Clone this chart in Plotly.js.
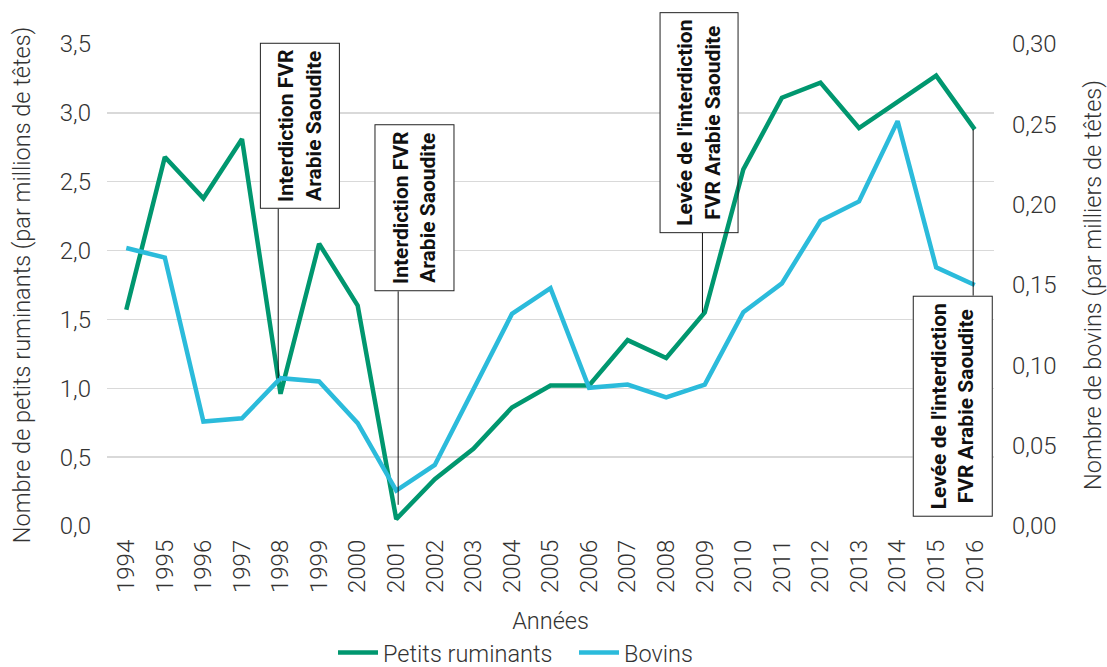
<!DOCTYPE html>
<html>
<head>
<meta charset="utf-8">
<script src="https://cdn.plot.ly/plotly-3.0.1.min.js"></script>
<style>html,body{margin:0;padding:0;background:#fff;}#chart{width:1107px;height:667px;}</style>
</head>
<body>
<div id="chart"></div>
<script>
const years = [1994,1995,1996,1997,1998,1999,2000,2001,2002,2003,2004,2005,2006,2007,2008,2009,2010,2011,2012,2013,2014,2015,2016];
const petitsRuminants = [1.57,2.68,2.38,2.81,0.96,2.05,1.60,0.05,0.34,0.56,0.86,1.02,1.02,1.35,1.22,1.55,2.59,3.11,3.22,2.89,3.08,3.27,2.88];
const bovins = [0.173,0.167,0.065,0.067,0.092,0.090,0.064,0.022,0.038,0.085,0.132,0.148,0.086,0.088,0.080,0.088,0.133,0.151,0.190,0.202,0.252,0.161,0.150];
const seriesNames = ["Petits ruminants","Bovins"];
const yLeftTicks = [0,0.5,1,1.5,2,2.5,3,3.5];
const yLeftTickText = ["0,0","0,5","1,0","1,5","2,0","2,5","3,0","3,5"];
const yRightTicks = [0,0.05,0.10,0.15,0.20,0.25,0.30];
const yRightTickText = ["0,00","0,05","0,10","0,15","0,20","0,25","0,30"];
const eventText = ["Interdiction FVR<br>Arabie Saoudite","Interdiction FVR<br>Arabie Saoudite","Levée de l'interdiction<br>FVR Arabie Saoudite","Levée de l'interdiction<br>FVR Arabie Saoudite"];
const eventYears = [1998,2001,2009,2016];

const GREEN = "#00976F", BLUE = "#2BBBDB";
const leftMax = 3.5, rightMax = 0.30;
const tickFont = {family:"Roboto", size:24, color:"#333", weight:300};
const titleFont = {family:"Roboto", size:23.5, color:"#333", weight:300};
const annFont = {family:"Roboto", size:21, color:"#111", weight:"bold"};

const traces = [
  {x:years, y:petitsRuminants, name:seriesNames[0], type:"scatter", mode:"lines", line:{color:GREEN, width:4.5}, yaxis:"y"},
  {x:years, y:bovins, name:seriesNames[1], type:"scatter", mode:"lines", line:{color:BLUE, width:4.5}, yaxis:"y2"}
];

const idx = y => years.indexOf(y);
// plot-area scale helpers (plot area 887 x 482 px)
const pxPerYear = 887 / 23, pxPerLeft = 482 / leftMax;
// annotation boxes: centre (year offset, paper y) and unrotated size (w = screen height, h = screen width)
const annDefs = [
  {yr:eventYears[0], dx:0.5, py:0.830, w:164, h:78},
  {yr:eventYears[1], dx:0.47, py:0.660, w:165, h:78},
  {yr:eventYears[2], dx:-0.14, py:0.8365, w:219, h:77},
  {yr:eventYears[3], dx:-0.57, py:0.249, w:219, h:78}
];
const annotations = annDefs.map((a,i)=>({
  x:a.yr + a.dx, xref:"x", y:a.py, yref:"paper", text:eventText[i], showarrow:false,
  textangle:-90, font:annFont, bgcolor:"rgba(0,0,0,0)", bordercolor:"#222", borderwidth:1, borderpad:0,
  width:a.w, height:a.h, align:"center", xanchor:"center", yanchor:"middle"
}));
// white backgrounds that hide gridlines but stay under the data lines
const boxBg = annDefs.map(a=>{
  const cx = a.yr + a.dx, hx = (a.h + 2) / 2 / pxPerYear;
  const cy = a.py * leftMax, hy = (a.w + 2) / 2 / pxPerLeft;
  return {type:"rect", xref:"x", yref:"y", layer:"between", x0:cx-hx, x1:cx+hx, y0:cy-hy, y1:cy+hy,
          fillcolor:"#fff", line:{width:0}};
});
const connectors = [
  {type:"line", xref:"x", yref:"paper", x0:eventYears[0]-0.06, x1:eventYears[0]-0.06, y0:bovins[idx(1998)]/rightMax, y1:0.658, line:{color:"#111", width:1}},
  {type:"line", xref:"x", yref:"paper", x0:eventYears[1]+0.05, x1:eventYears[1]+0.05, y0:0.044, y1:0.487, line:{color:"#111", width:1}},
  {type:"line", xref:"x", yref:"paper", x0:eventYears[2]-0.06, x1:eventYears[2]-0.06, y0:petitsRuminants[idx(2009)]/leftMax, y1:0.608, line:{color:"#111", width:1}},
  {type:"line", xref:"x", yref:"paper", x0:eventYears[3]-0.04, x1:eventYears[3]-0.04, y0:petitsRuminants[idx(2016)]/leftMax, y1:0.478, line:{color:"#111", width:1}}
];

const layout = {
  width:1107, height:667,
  margin:{l:107, r:113, t:44, b:141, autoexpand:false},
  paper_bgcolor:"#fff", plot_bgcolor:"#fff",
  showlegend:true,
  legend:{orientation:"h", x:0.2548, xanchor:"left", y:-0.263, yanchor:"middle", font:titleFont, traceorder:"normal",
    itemwidth:40, entrywidth:186, entrywidthmode:"pixels"},
  xaxis:{range:[1993.5,2016.5], tickmode:"array", tickvals:years, ticktext:years.map(String), tickangle:-90,
    tickfont:tickFont, showgrid:false, zeroline:false, showline:false, ticks:"", ticklabelstandoff:8,
    title:{text:"Années", font:titleFont, standoff:20}, fixedrange:true},
  yaxis:{range:[0,leftMax], tickmode:"array", tickvals:yLeftTicks, ticktext:yLeftTickText, tickfont:tickFont,
    showgrid:true, gridcolor:"#D9D9D9", gridwidth:1.5, zeroline:false, showline:false, ticks:"", ticklabelstandoff:15,
    title:{text:"Nombre de petits ruminants (par millions de têtes)", font:titleFont, standoff:22}},
  yaxis2:{range:[0,rightMax], overlaying:"y", side:"right", tickmode:"array", tickvals:yRightTicks, ticktext:yRightTickText,
    tickfont:tickFont, showgrid:false, zeroline:false, showline:false, ticks:"", ticklabelstandoff:17,
    title:{text:"Nombre de bovins (par milliers de têtes)", font:titleFont, standoff:35}},
  annotations:annotations,
  shapes:boxBg.concat(connectors),
  hovermode:false
};
Plotly.newPlot("chart", traces, layout, {staticPlot:true, displayModeBar:false});
</script>
</body>
</html>
